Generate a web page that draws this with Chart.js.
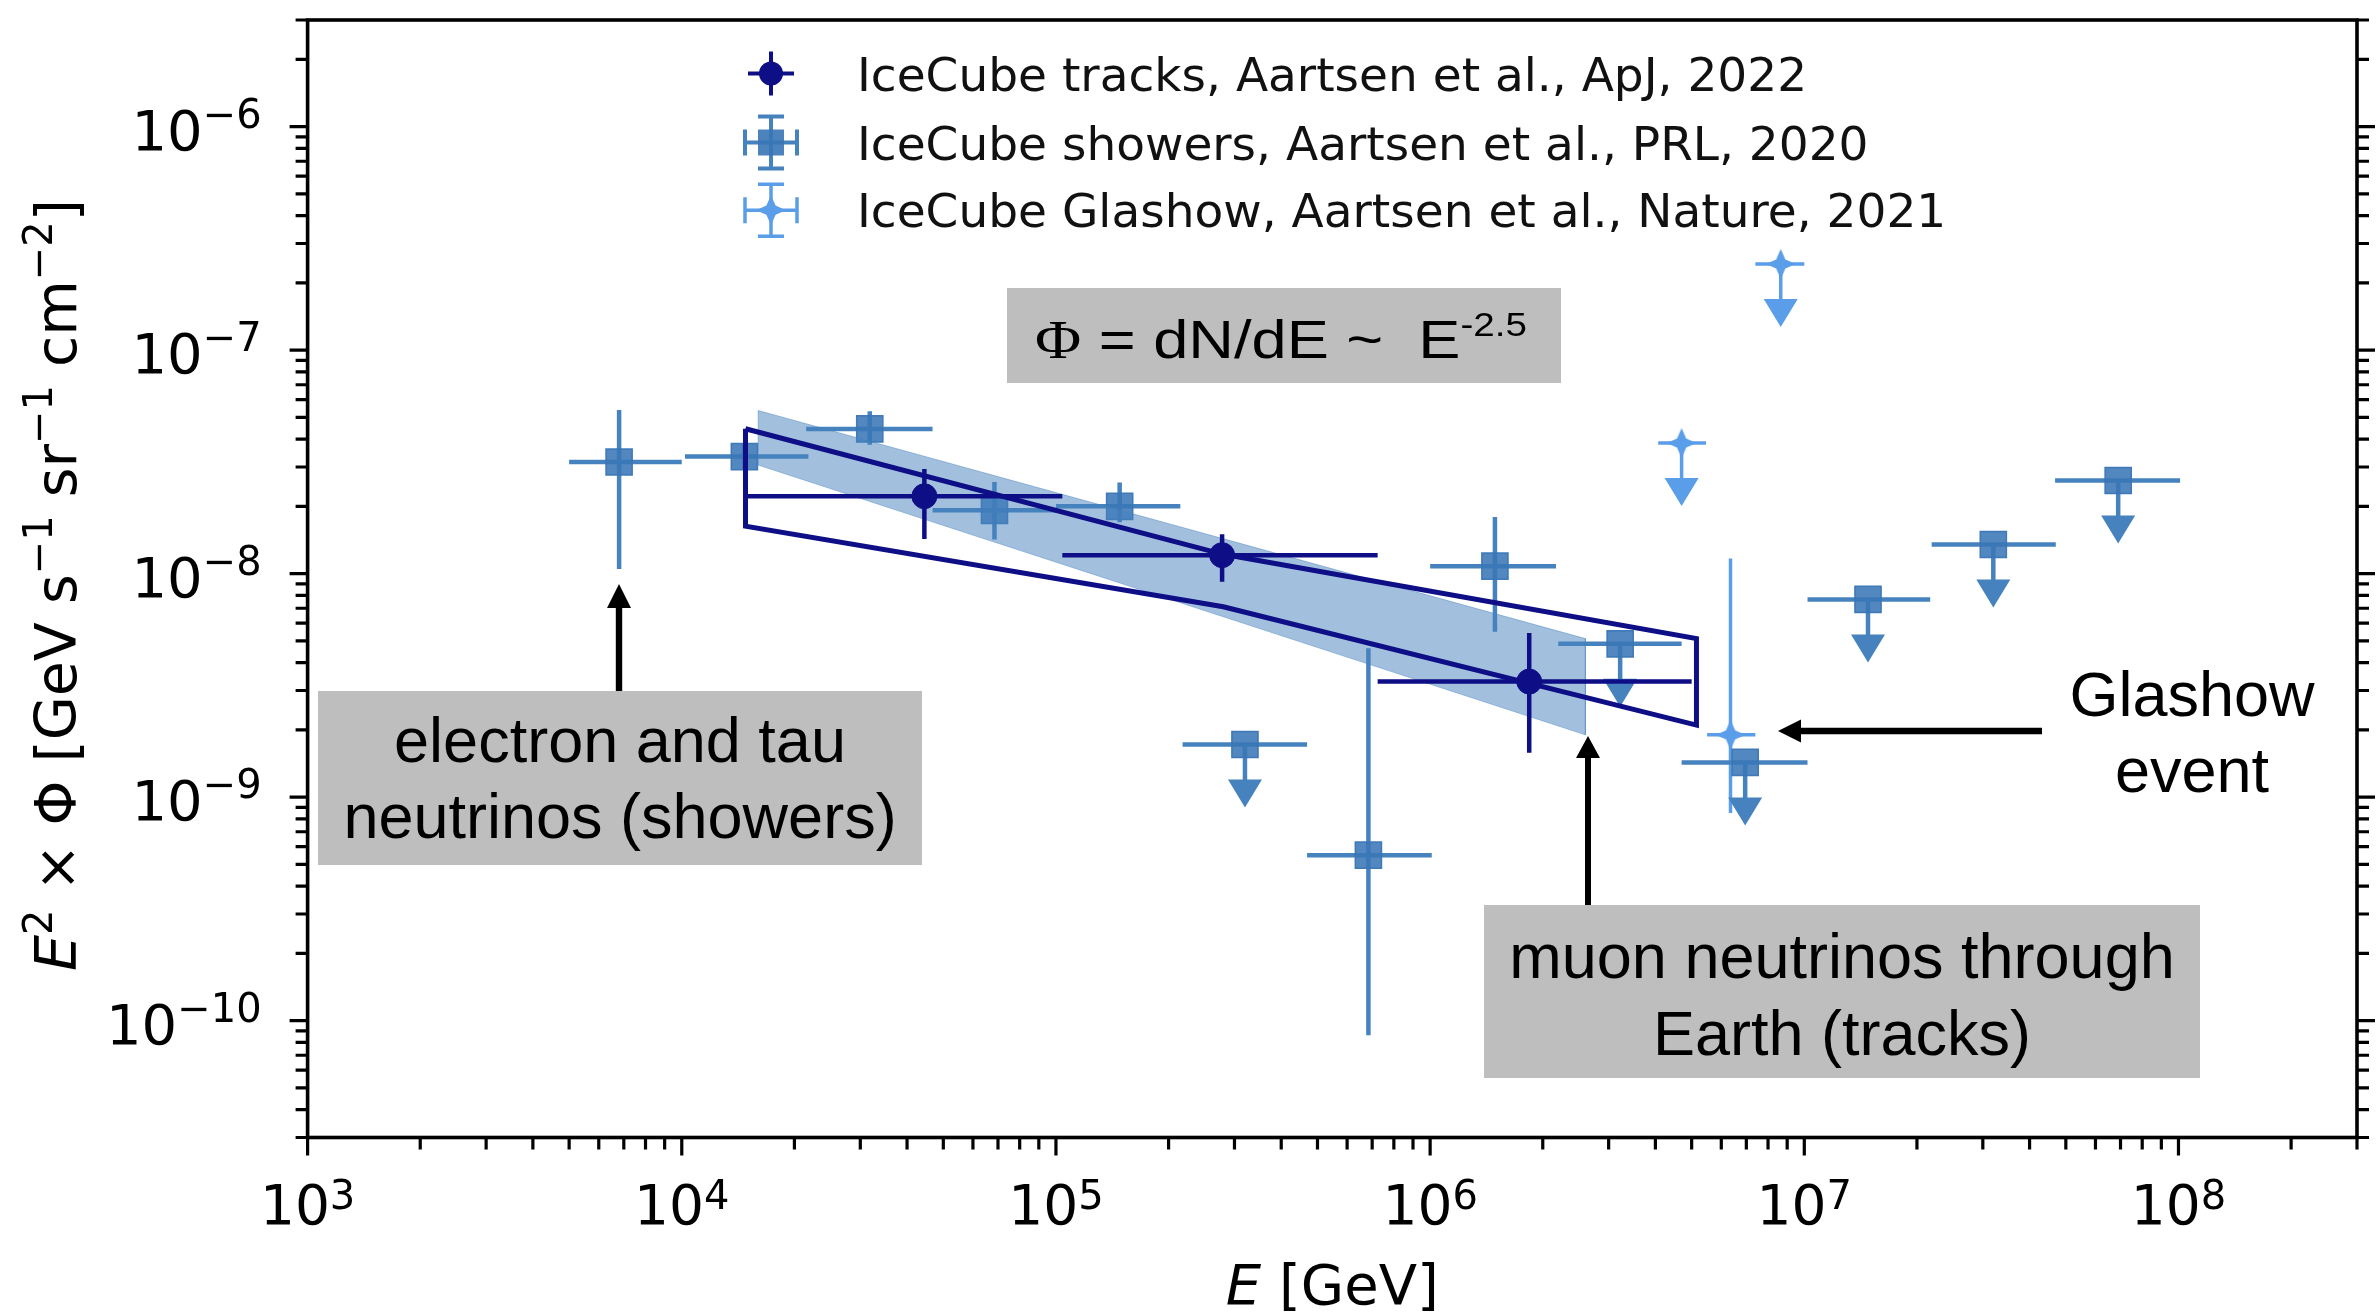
<!DOCTYPE html>
<html>
<head>
<meta charset="utf-8">
<script src="https://cdn.jsdelivr.net/npm/chart.js@4/dist/chart.umd.min.js"></script>
<style>
  html, body { margin: 0; padding: 0; background: #ffffff; }
  canvas { display: block; }
</style>
</head>
<body>
<canvas id="flux" width="2377" height="1315"></canvas>
<script>
// ---------------------------------------------------------------------------
// Astrophysical neutrino flux measurements, E^2 x Phi versus neutrino energy
// ---------------------------------------------------------------------------

// IceCube showers (cascades), segmented fit
const showerE    = [6.8e3, 1.47e4, 3.18e4, 6.85e4, 1.48e5, 3.2e5, 6.84e5, 1.49e6, 3.22e6, 6.95e6, 1.48e7, 3.2e7, 6.9e7];
const showerELo  = [5.0e3, 1.02e4, 2.15e4, 4.68e4, 1.0e5, 2.18e5, 4.69e5, 1.0e6, 2.2e6, 4.7e6, 1.02e7, 2.19e7, 4.68e7];
const showerEHi  = [1.0e4, 2.18e4, 4.68e4, 1.0e5, 2.15e5, 4.69e5, 1.01e6, 2.17e6, 4.7e6, 1.02e7, 2.17e7, 4.7e7, 1.01e8];
const showerFlux = [3.16e-8, 3.34e-8, 4.44e-8, 1.92e-8, 2.0e-8, 1.72e-9, 5.5e-10, 1.08e-8, 4.85e-9, 1.43e-9, 7.67e-9, 1.35e-8, 2.61e-8];
const showerLo   = [1.05e-8, 2.9e-8, 3.77e-8, 1.42e-8, 1.70e-8, null, 8.6e-11, 5.5e-9, null, null, null, null, null];
const showerHi   = [5.4e-8, 3.8e-8, 5.33e-8, 2.57e-8, 2.56e-8, null, 4.64e-9, 1.79e-8, null, null, null, null, null];
const showerUL   = [false, false, false, false, false, true, false, false, true, true, true, true, true];

// IceCube tracks (through-going muons), unfolded points
const trackE    = [4.45e4, 2.78e5, 1.84e6];
const trackELo  = [1.47e4, 1.04e5, 7.24e5];
const trackEHi  = [1.04e5, 7.24e5, 5.0e6];
const trackFlux = [2.22e-8, 1.21e-8, 3.29e-9];
const trackLo   = [1.43e-8, 9.2e-9, 1.58e-9];
const trackHi   = [2.94e-8, 1.50e-8, 5.42e-9];

// IceCube Glashow resonance search
const glashowE    = [4.7e6, 6.35e6, 8.65e6];
const glashowELo  = [4.07e6, 5.5e6, 7.4e6];
const glashowEHi  = [5.46e6, 7.4e6, 1.0e7];
const glashowFlux = [3.84e-8, 1.90e-9, 2.43e-7];
const glashowLo   = [null, 8.5e-10, null];
const glashowHi   = [null, 1.17e-8, null];
const glashowUL   = [true, false, true];

// Shower power-law fit band (~E^-2.5), corners of the shaded region
const showerFitE    = [1.6e4, 2.6e6, 2.6e6, 1.6e4];
const showerFitFlux = [5.37e-8, 5.12e-9, 1.90e-9, 3.06e-8];

// Track power-law fit region (outline)
const trackFitE    = [1.48e4, 2.8e5, 5.15e6, 5.15e6, 2.8e5, 1.48e4, 1.48e4];
const trackFitFlux = [4.45e-8, 1.22e-8, 5.12e-9, 2.10e-9, 7.11e-9, 1.63e-8, 4.45e-8];

// Axis ranges and labelled ticks
const xRange = [1e3, 3e8];
const yRange = [3e-11, 3e-6];
const xTickExp = [3, 4, 5, 6, 7, 8];
const yTickExp = [-10, -9, -8, -7, -6];

const seriesLabels = [
  'IceCube tracks, Aartsen et al., ApJ, 2022',
  'IceCube showers, Aartsen et al., PRL, 2020',
  'IceCube Glashow, Aartsen et al., Nature, 2021'
];

// ---------------------------------------------------------------------------
const NAVY = '#0e0e86';
const STEEL = '#4682be';
const LIGHT = '#5a9de9';
const FONT = '"DejaVu Sans", sans-serif';
const ARROW = { len: 63, head: 28, half: 17 };

const pts = (xs, ys) => xs.map((x, i) => ({ x, y: ys[i] }));

// four-pointed star marker used for the Glashow points
function starPath(ctx, cx, cy, outer, inner) {
  ctx.beginPath();
  for (let k = 0; k < 8; k++) {
    const r = k % 2 === 0 ? outer : inner;
    const ang = -Math.PI / 2 + k * Math.PI / 4;
    const px = cx + r * Math.cos(ang), py = cy + r * Math.sin(ang);
    if (k === 0) ctx.moveTo(px, py); else ctx.lineTo(px, py);
  }
  ctx.closePath();
}
const starMarker = document.createElement('canvas');
starMarker.width = 32; starMarker.height = 32;
(() => {
  const c = starMarker.getContext('2d');
  c.fillStyle = LIGHT;
  starPath(c, 16, 16, 15, 6.5);
  c.fill();
})();

function richWidth(ctx, parts) {
  let w = 0;
  for (const p of parts) { ctx.font = p.font; w += ctx.measureText(p.text).width; }
  return w;
}
function drawRich(ctx, parts, x, y, align) {
  const w = richWidth(ctx, parts);
  let cx = align === 'center' ? x - w / 2 : align === 'right' ? x - w : x;
  ctx.textAlign = 'left';
  ctx.textBaseline = 'alphabetic';
  for (const p of parts) {
    ctx.font = p.font;
    ctx.fillText(p.text, cx, y + (p.dy || 0));
    cx += ctx.measureText(p.text).width;
  }
}

// Error bars and upper-limit arrows, drawn under each dataset's markers
const errorBars = {
  id: 'errorBars',
  beforeDatasetDraw(chart, args) {
    const ds = chart.data.datasets[args.index];
    if (!ds.err) return;
    const { ctx, chartArea: a, scales: { x: xs, y: ys } } = chart;
    const e = ds.err;
    ctx.save();
    ctx.beginPath();
    ctx.rect(a.left, a.top, a.right - a.left, a.bottom - a.top);
    ctx.clip();
    ctx.strokeStyle = ds.errColor;
    ctx.fillStyle = ds.errColor;
    ctx.lineWidth = ds.errWidth;
    ds.data.forEach((p, i) => {
      const px = xs.getPixelForValue(p.x);
      const py = ys.getPixelForValue(p.y);
      ctx.beginPath();
      ctx.moveTo(xs.getPixelForValue(e.xlo[i]), py);
      ctx.lineTo(xs.getPixelForValue(e.xhi[i]), py);
      if (e.ylo && e.ylo[i] != null) {
        ctx.moveTo(px, ys.getPixelForValue(e.ylo[i]));
        ctx.lineTo(px, ys.getPixelForValue(e.yhi[i]));
      }
      ctx.stroke();
      if (e.ul && e.ul[i]) {
        const tip = py + ARROW.len;
        ctx.beginPath();
        ctx.moveTo(px, py);
        ctx.lineTo(px, tip - ARROW.head + 2);
        ctx.stroke();
        ctx.beginPath();
        ctx.moveTo(px - ARROW.half, tip - ARROW.head);
        ctx.lineTo(px + ARROW.half, tip - ARROW.head);
        ctx.lineTo(px, tip);
        ctx.closePath();
        ctx.fill();
      }
    });
    ctx.restore();
  }
};

function blackArrow(ctx, x0, y0, x1, y1, width, head, half) {
  const dx = x1 - x0, dy = y1 - y0, L = Math.hypot(dx, dy);
  const ux = dx / L, uy = dy / L;
  const bx = x1 - ux * head, by = y1 - uy * head;
  ctx.save();
  ctx.strokeStyle = '#000'; ctx.fillStyle = '#000';
  ctx.lineWidth = width;
  ctx.beginPath(); ctx.moveTo(x0, y0); ctx.lineTo(bx + ux, by + uy); ctx.stroke();
  ctx.beginPath();
  ctx.moveTo(x1, y1);
  ctx.lineTo(bx - uy * half, by + ux * half);
  ctx.lineTo(bx + uy * half, by - ux * half);
  ctx.closePath(); ctx.fill();
  ctx.restore();
}

// Frame, log ticks, tick labels, axis titles, legend and text boxes
const decorations = {
  id: 'decorations',
  afterDraw(chart) {
    const { ctx, chartArea: a, scales: { x: xs, y: ys } } = chart;
    ctx.save();
    ctx.fillStyle = '#000';
    ctx.strokeStyle = '#000';

    // minor + major ticks
    ctx.lineWidth = 3.2;
    ctx.beginPath();
    for (let d = 2; d <= 8; d++) {
      for (let k = 1; k <= 9; k++) {
        const v = k * Math.pow(10, d);
        if (v < xRange[0] * 0.999 || v > xRange[1] * 1.001) continue;
        const px = xs.getPixelForValue(v);
        const len = k === 1 ? 18 : 12;
        ctx.moveTo(px, a.bottom); ctx.lineTo(px, a.bottom + len);
      }
    }
    for (let d = -11; d <= -6; d++) {
      for (let k = 1; k <= 9; k++) {
        const v = k * Math.pow(10, d);
        if (v < yRange[0] * 0.999 || v > yRange[1] * 1.001) continue;
        const py = ys.getPixelForValue(v);
        const len = k === 1 ? 18 : 12;
        ctx.moveTo(a.left - len, py); ctx.lineTo(a.left, py);
        ctx.moveTo(a.right, py); ctx.lineTo(a.right + len, py);
      }
    }
    ctx.stroke();

    // frame
    ctx.lineWidth = 3.6;
    ctx.strokeRect(a.left, a.top, a.right - a.left, a.bottom - a.top);

    // tick labels
    const big = '55px ' + FONT, sup = '40px ' + FONT;
    xTickExp.forEach(n => {
      const px = xs.getPixelForValue(Math.pow(10, n));
      drawRich(ctx, [{ text: '10', font: big }, { text: String(n), font: sup, dy: -15 }], px, a.bottom + 86, 'center');
    });
    yTickExp.forEach(n => {
      const py = ys.getPixelForValue(Math.pow(10, n));
      drawRich(ctx, [{ text: '10', font: '56px ' + FONT }, { text: '\u2212' + Math.abs(n), font: sup, dy: -22 }], a.left - 46, py + 23, 'right');
    });

    // axis titles
    drawRich(ctx, [
      { text: 'E', font: 'italic 56px ' + FONT },
      { text: ' [GeV]', font: '56px ' + FONT }
    ], (a.left + a.right) / 2, 1304, 'center');

    ctx.save();
    ctx.translate(76, 585);
    ctx.rotate(-Math.PI / 2);
    const yl = '57px ' + FONT, ys2 = '40px ' + FONT;
    drawRich(ctx, [
      { text: 'E', font: 'italic 57px ' + FONT },
      { text: '2', font: ys2, dy: -24 },
      { text: ' \u00d7 \u03a6 [GeV s', font: yl },
      { text: '\u22121', font: ys2, dy: -24 },
      { text: ' sr', font: yl },
      { text: '\u22121', font: ys2, dy: -24 },
      { text: ' cm', font: yl },
      { text: '\u22122', font: ys2, dy: -24 },
      { text: ']', font: yl }
    ], 0, 0, 'center');
    ctx.restore();

    // legend
    const rows = [73.6, 142.5, 210.2];
    const ix = 771;
    ctx.font = '47px ' + FONT;
    ctx.textAlign = 'left';
    ctx.textBaseline = 'alphabetic';
    seriesLabels.forEach((t, i) => { ctx.fillStyle = '#111'; ctx.fillText(t, 857, rows[i] + 17); });
    // tracks icon
    ctx.strokeStyle = NAVY; ctx.fillStyle = NAVY; ctx.lineWidth = 4;
    ctx.beginPath();
    ctx.moveTo(ix - 23, rows[0]); ctx.lineTo(ix + 23, rows[0]);
    ctx.moveTo(ix, rows[0] - 22); ctx.lineTo(ix, rows[0] + 22);
    ctx.stroke();
    ctx.beginPath(); ctx.arc(ix, rows[0], 12, 0, Math.PI * 2); ctx.fill();
    // capped icons
    const capped = (cy, col, lw) => {
      ctx.strokeStyle = col; ctx.lineWidth = lw;
      ctx.beginPath();
      ctx.moveTo(ix - 26, cy); ctx.lineTo(ix + 26, cy);
      ctx.moveTo(ix, cy - 26); ctx.lineTo(ix, cy + 26);
      ctx.moveTo(ix - 26, cy - 13); ctx.lineTo(ix - 26, cy + 13);
      ctx.moveTo(ix + 26, cy - 13); ctx.lineTo(ix + 26, cy + 13);
      ctx.moveTo(ix - 13, cy - 26); ctx.lineTo(ix + 13, cy - 26);
      ctx.moveTo(ix - 13, cy + 26); ctx.lineTo(ix + 13, cy + 26);
      ctx.stroke();
    };
    capped(rows[1], STEEL, 4);
    ctx.fillStyle = 'rgba(58,118,182,0.9)';
    ctx.fillRect(ix - 13, rows[1] - 13, 26, 26);
    capped(rows[2], LIGHT, 3.5);
    ctx.fillStyle = LIGHT;
    starPath(ctx, ix, rows[2], 15, 6.5);
    ctx.fill();

    // text boxes
    const SANS = '"Liberation Sans", Arial, sans-serif';
    ctx.fillStyle = '#bebebe';
    ctx.fillRect(1007, 288, 554, 95);
    ctx.fillRect(318, 691, 604, 174);
    ctx.fillRect(1484, 905, 716, 173);

    ctx.fillStyle = '#000';
    ctx.save();
    ctx.translate(1281, 358);
    ctx.scale(1.17, 1);
    drawRich(ctx, [
      { text: '\u03a6', font: '54px "Liberation Serif", serif' },
      { text: ' = dN/dE ~  E', font: '54px ' + SANS },
      { text: '-2.5', font: '33px ' + SANS, dy: -22 }
    ], 0, 0, 'center');
    ctx.restore();

    ctx.font = '63px ' + SANS;
    ctx.textAlign = 'center';
    ctx.fillText('electron and tau', 620, 762);
    ctx.fillText('neutrinos (showers)', 620, 838);
    ctx.fillText('muon neutrinos through', 1842, 978);
    ctx.fillText('Earth (tracks)', 1842, 1055);
    ctx.fillText('Glashow', 2192, 716);
    ctx.fillText('event', 2192, 792);

    // pointer arrows
    blackArrow(ctx, 619, 691, 619, 584, 6.4, 24, 12);
    blackArrow(ctx, 1588, 905, 1588, 736, 6, 22, 12);
    blackArrow(ctx, 2042, 731, 1778, 731, 6.4, 23, 11.5);

    ctx.restore();
  }
};

new Chart(document.getElementById('flux').getContext('2d'), {
  type: 'scatter',
  data: {
    datasets: [
      {
        label: seriesLabels[0],
        data: pts(trackE, trackFlux),
        order: 1,
        pointStyle: 'circle',
        pointRadius: 12.5,
        pointBackgroundColor: NAVY,
        pointBorderColor: NAVY,
        pointBorderWidth: 1,
        err: { xlo: trackELo, xhi: trackEHi, ylo: trackLo, yhi: trackHi },
        errColor: NAVY,
        errWidth: 4.5
      },
      {
        label: 'track fit',
        data: pts(trackFitE, trackFitFlux),
        order: 2,
        showLine: true,
        fill: false,
        borderColor: NAVY,
        borderWidth: 5,
        borderJoinStyle: 'miter',
        pointRadius: 0,
        tension: 0
      },
      {
        label: 'shower fit',
        data: pts(showerFitE, showerFitFlux).concat([{ x: showerFitE[0], y: showerFitFlux[0] }]),
        order: 3,
        showLine: true,
        fill: 'shape',
        backgroundColor: 'rgba(70,130,190,0.5)',
        borderColor: 'rgba(70,130,190,0.45)',
        borderWidth: 1,
        pointRadius: 0,
        tension: 0
      },
      {
        label: seriesLabels[1],
        data: pts(showerE, showerFlux),
        order: 4,
        pointStyle: 'rect',
        pointRadius: 18.5,
        pointBackgroundColor: 'rgba(58,118,182,0.88)',
        pointBorderColor: 'rgba(58,118,182,0.95)',
        pointBorderWidth: 1.5,
        err: { xlo: showerELo, xhi: showerEHi, ylo: showerLo, yhi: showerHi, ul: showerUL },
        errColor: STEEL,
        errWidth: 4.5
      },
      {
        label: seriesLabels[2],
        data: pts(glashowE, glashowFlux),
        order: 5,
        pointStyle: starMarker,
        pointRadius: 15,
        err: { xlo: glashowELo, xhi: glashowEHi, ylo: glashowLo, yhi: glashowHi, ul: glashowUL },
        errColor: LIGHT,
        errWidth: 3.5
      }
    ]
  },
  options: {
    responsive: false,
    animation: false,
    devicePixelRatio: 1,
    layout: { padding: { left: 307.6, top: 11.8, right: 18, bottom: 177.5 } },
    scales: {
      x: { type: 'logarithmic', min: xRange[0], max: xRange[1], display: false },
      y: { type: 'logarithmic', min: yRange[0], max: yRange[1], display: false }
    },
    plugins: {
      legend: { display: false },
      tooltip: { enabled: false }
    }
  },
  plugins: [errorBars, decorations]
});
</script>
</body>
</html>
